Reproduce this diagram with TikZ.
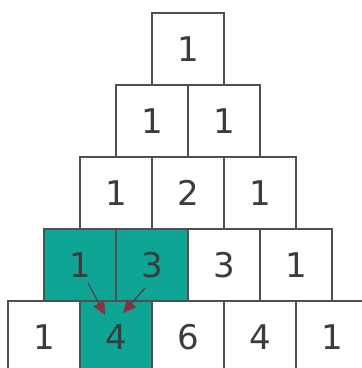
\documentclass[tikz,border=0pt]{standalone}
\usepackage{fontspec}
\setmainfont{DejaVu Sans}
\usetikzlibrary{calc,arrows.meta}
\definecolor{teal1}{HTML}{0FA595}
\definecolor{txt}{HTML}{3C3C3C}
\definecolor{edge}{HTML}{505050}
\definecolor{arr}{HTML}{5A3A40}
\definecolor{arrhead}{HTML}{8A3040}
\tikzset{
  cell/.style={draw=edge, line width=1.3pt, minimum width=72pt, minimum height=72pt,
    inner sep=0pt, outer sep=0pt, text=txt, font=\fontsize{34}{40}\selectfont, fill=white},
  hot/.style={cell, fill=teal1},
  arrowline/.style={draw=arr, line width=1.2pt, -{Triangle[length=13pt,width=12pt,color=arrhead]}}
}
\begin{document}
\begin{tikzpicture}[x=1pt,y=-1pt]
\useasboundingbox (0,0) rectangle (362,368);
\clip (0,0) rectangle (362,368);
% row 0
\node[cell] (r0c0) at (188,49) {1};
% row 1
\node[cell] (r1c0) at (152,121) {1};
\node[cell] (r1c1) at (224,121) {1};
% row 2
\node[cell] (r2c0) at (116,193) {1};
\node[cell] (r2c1) at (188,193) {2};
\node[cell] (r2c2) at (260,193) {1};
% row 3
\node[hot] (r3c0) at (80,265) {1};
\node[hot] (r3c1) at (152,265) {3};
\node[cell] (r3c2) at (224,265) {3};
\node[cell] (r3c3) at (296,265) {1};
% row 4
\node[cell] (r4c0) at (44,337) {1};
\node[hot] (r4c1) at (116,337) {4};
\node[cell] (r4c2) at (188,337) {6};
\node[cell] (r4c3) at (260,337) {4};
\node[cell] (r4c4) at (332,337) {1};
% arrows
\draw[arrowline] ($(r3c0.center)+(8,18)$) -- ($(r4c1.center)+(-11,-22)$);
\draw[arrowline] ($(r3c1.center)+(-7,23)$) -- ($(r4c1.center)+(7,-24)$);
\end{tikzpicture}
\end{document}
